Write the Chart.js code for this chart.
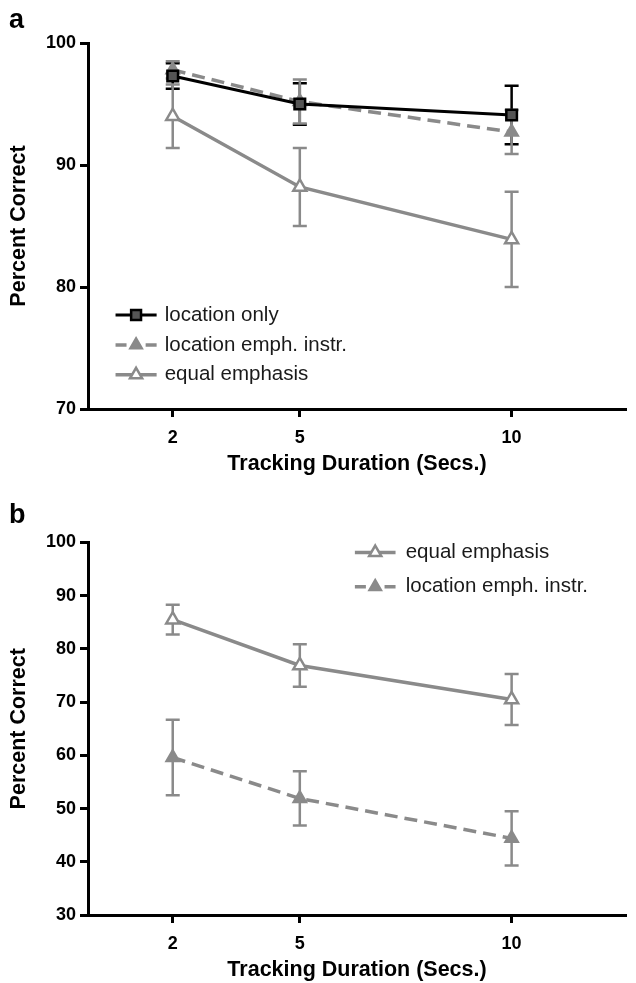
<!DOCTYPE html>
<html>
<head>
<meta charset="utf-8">
<script src="https://cdn.jsdelivr.net/npm/chart.js@4.4.1/dist/chart.umd.min.js"></script>
<style>
  html, body { margin: 0; padding: 0; background: #fff; }
  #wrap { position: relative; width: 636px; height: 983px; overflow: hidden; }
  .panel { position: absolute; left: 0; width: 636px; }
  #pa { top: 0; height: 490px; }
  #pb { top: 490px; height: 493px; }
  .tag { position: absolute; font: bold 27px "Liberation Sans", Arial, sans-serif; color: #000; line-height: 30px; }
</style>
</head>
<body>
<div id="wrap">
  <div class="panel" id="pa"><canvas id="ca" width="636" height="490"></canvas></div>
  <div class="panel" id="pb"><canvas id="cb" width="636" height="493"></canvas></div>
  <div class="tag" style="left:9px;top:4px">a</div>
  <div class="tag" style="left:9px;top:499px">b</div>
</div>
<script>
// Tracking durations (seconds) and the tick labels on the x axis
const durations = [2, 5, 10];
const xTickValues = [2, 5, 10];

// Panel a: percent correct (mean) and error half-widths
const aLocationOnly = [97.3, 95.0, 94.1];
const aLocationOnlyErr = [1.05, 1.7, 2.4];
const aLocationEmph = [97.8, 95.2, 92.7];
const aLocationEmphErr = [0.7, 1.8, 1.8];
const aEqualEmph = [94.0, 88.2, 83.9];
const aEqualEmphErr = [2.6, 3.2, 3.9];
const aYTicks = [70, 80, 90, 100];

// Panel b: percent correct (mean) and error half-widths
const bEqualEmph = [85.5, 76.9, 70.5];
const bEqualEmphErr = [2.8, 4.0, 4.8];
const bLocationEmph = [59.6, 51.9, 44.4];
const bLocationEmphErr = [7.1, 5.1, 5.1];
const bYTicks = [30, 40, 50, 60, 70, 80, 90, 100];

const FONT = '"Liberation Sans", Arial, Helvetica, sans-serif';
const GRAY = '#8a8a8a';

function pts(values) {
  return values.map((v, i) => ({ x: durations[i], y: v }));
}

// Vertical error bars with caps, drawn through the y scale
const errorBars = {
  id: 'errorBars',
  beforeDatasetsDraw(chart) {
    const { ctx } = chart;
    const ys = chart.scales.y;
    chart.data.datasets.forEach((ds, i) => {
      if (!ds.errors) return;
      const meta = chart.getDatasetMeta(i);
      ctx.save();
      ctx.strokeStyle = ds.errorColor;
      ctx.lineWidth = 2.5;
      meta.data.forEach((el, j) => {
        const v = ds.data[j].y, e = ds.errors[j];
        const top = ys.getPixelForValue(v + e);
        const bot = ys.getPixelForValue(v - e);
        const x = el.x, half = 7;
        ctx.beginPath();
        ctx.moveTo(x, top); ctx.lineTo(x, bot);
        ctx.moveTo(x - half, top); ctx.lineTo(x + half, top);
        ctx.moveTo(x - half, bot); ctx.lineTo(x + half, bot);
        ctx.stroke();
      });
      ctx.restore();
    });
  }
};

// Legend drawn inside the plot area
const insetLegend = {
  id: 'insetLegend',
  afterDraw(chart, args, opts) {
    const { ctx } = chart;
    const xs = chart.scales.x, ys = chart.scales.y;
    const x0 = xs.getPixelForValue(opts.lineFrom);
    const x1 = xs.getPixelForValue(opts.lineTo);
    const xt = xs.getPixelForValue(opts.textAt);
    const xm = (x0 + x1) / 2;
    opts.order.forEach((idx, k) => {
      const ds = chart.data.datasets[idx];
      const yy = ys.getPixelForValue(opts.rows[k]);
      ctx.save();
      ctx.strokeStyle = ds.borderColor;
      ctx.lineWidth = ds.borderWidth;
      ctx.beginPath();
      if (ds.borderDash && ds.borderDash.length) {
        ctx.moveTo(x0, yy); ctx.lineTo(x0 + 11, yy);
        ctx.moveTo(x1 - 11, yy); ctx.lineTo(x1, yy);
      } else {
        ctx.moveTo(x0, yy); ctx.lineTo(x1, yy);
      }
      ctx.stroke();
      ctx.fillStyle = ds.pointBackgroundColor;
      ctx.strokeStyle = ds.pointBorderColor;
      ctx.lineWidth = ds.pointBorderWidth;
      Chart.helpers.drawPoint(ctx, {
        pointStyle: ds.pointStyle, rotation: 0,
        radius: ds.pointRadius - 0.5, borderWidth: ds.pointBorderWidth
      }, xm, yy);
      ctx.fillStyle = '#1a1a1a';
      ctx.font = '20.5px ' + FONT;
      ctx.textBaseline = 'middle';
      ctx.textAlign = 'left';
      ctx.fillText(ds.label, xt, yy);
      ctx.restore();
    });
  }
};

function axisX(height, tickPad, titlePadBottom) {
  return {
    type: 'linear', min: 0, max: 12.7,
    afterBuildTicks: s => { s.ticks = xTickValues.map(v => ({ value: v })); },
    afterFit: s => { s.height = height; },
    ticks: {
      color: '#000', padding: tickPad,
      font: { family: FONT, size: 18, weight: 'bold' },
      callback: v => String(v)
    },
    grid: { display: true, drawOnChartArea: false, drawTicks: true, tickLength: 8, tickWidth: 3, tickColor: '#000' },
    border: { display: true, width: 3, color: '#000' },
    title: {
      display: true, text: 'Tracking Duration (Secs.)', color: '#000',
      font: { family: FONT, size: 21.5, weight: 'bold' },
      padding: { top: 0, bottom: titlePadBottom }
    }
  };
}

function axisY(min, max, tickVals) {
  return {
    type: 'linear', min, max,
    afterBuildTicks: s => { s.ticks = tickVals.map(v => ({ value: v })); },
    afterFit: s => { s.width = 88; },
    ticks: {
      color: '#000', padding: 4,
      font: { family: FONT, size: 18, weight: 'bold' }
    },
    grid: { display: true, drawOnChartArea: false, drawTicks: true, tickLength: 8, tickWidth: 3, tickColor: '#000' },
    border: { display: true, width: 3, color: '#000' },
    title: {
      display: true, text: 'Percent Correct', color: '#000',
      font: { family: FONT, size: 21.5, weight: 'bold' },
      padding: { top: 6, bottom: 0 }
    }
  };
}

const dsLocationOnly = (data, err) => ({
  label: 'location only', data: pts(data), errors: err, errorColor: '#000',
  borderColor: '#000', borderWidth: 3,
  pointStyle: 'rect', pointRadius: 7.5, pointBackgroundColor: '#555', pointBorderColor: '#000', pointBorderWidth: 2.5
});
const dsLocationEmph = (data, err) => ({
  label: 'location emph. instr.', data: pts(data), errors: err, errorColor: GRAY,
  borderColor: GRAY, borderWidth: 3.5, borderDash: [13, 7],
  pointStyle: 'triangle', pointRadius: 7.5, pointBackgroundColor: GRAY, pointBorderColor: GRAY, pointBorderWidth: 2
});
const dsEqualEmph = (data, err) => ({
  label: 'equal emphasis', data: pts(data), errors: err, errorColor: GRAY,
  borderColor: GRAY, borderWidth: 3.5,
  pointStyle: 'triangle', pointRadius: 7.5, pointBackgroundColor: '#fff', pointBorderColor: GRAY, pointBorderWidth: 2.5
});

const common = {
  responsive: false, animation: false, devicePixelRatio: 1,
  elements: { line: { tension: 0 } },
  datasets: { line: { clip: false } }
};

new Chart(document.getElementById('ca'), {
  type: 'line',
  data: {
    datasets: [
      dsLocationOnly(aLocationOnly, aLocationOnlyErr),
      dsLocationEmph(aLocationEmph, aLocationEmphErr),
      dsEqualEmph(aEqualEmph, aEqualEmphErr)
    ]
  },
  options: Object.assign({}, common, {
    layout: { padding: { top: 43, right: 0, bottom: 0, left: 0 } },
    scales: { x: axisX(81, 10, 13), y: axisY(70, 100, aYTicks) },
    plugins: {
      legend: { display: false }, tooltip: { enabled: false },
      insetLegend: { order: [0, 1, 2], rows: [77.7, 75.25, 72.8], lineFrom: 0.65, lineTo: 1.62, textAt: 1.81 }
    }
  }),
  plugins: [errorBars, insetLegend]
});

new Chart(document.getElementById('cb'), {
  type: 'line',
  data: {
    datasets: [
      dsEqualEmph(bEqualEmph, bEqualEmphErr),
      dsLocationEmph(bLocationEmph, bLocationEmphErr)
    ]
  },
  options: Object.assign({}, common, {
    layout: { padding: { top: 52.5, right: 0, bottom: 0, left: 0 } },
    scales: { x: axisX(68, 10, 0), y: axisY(30, 100, bYTicks) },
    plugins: {
      legend: { display: false }, tooltip: { enabled: false },
      insetLegend: { order: [0, 1], rows: [98.1, 91.7], lineFrom: 6.3, lineTo: 7.26, textAt: 7.5 }
    }
  }),
  plugins: [errorBars, insetLegend]
});
</script>
</body>
</html>
